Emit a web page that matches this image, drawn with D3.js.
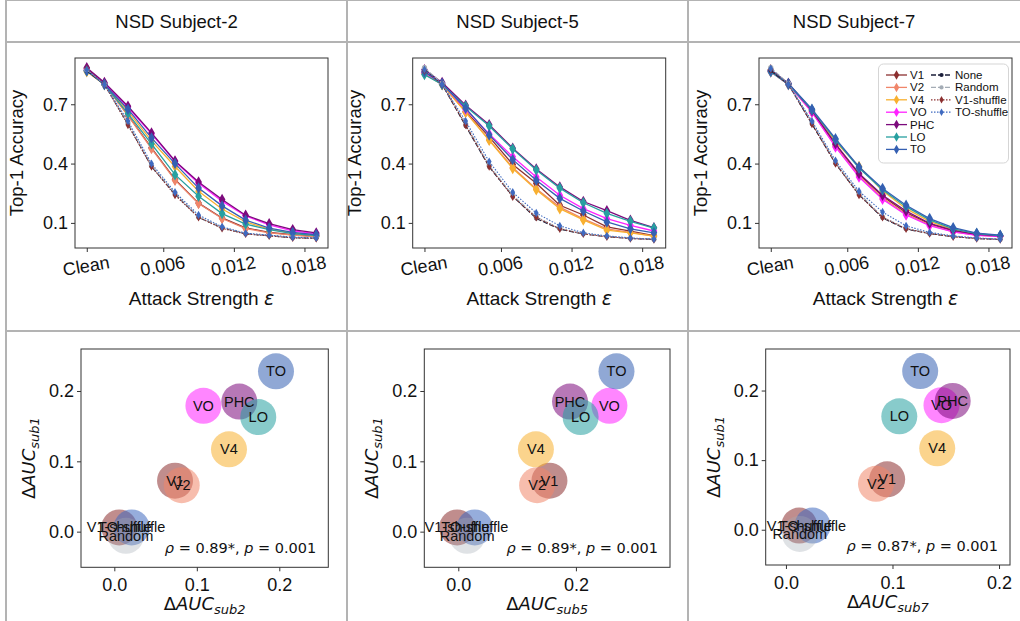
<!DOCTYPE html>
<html>
<head>
<meta charset="utf-8">
<script src="https://cdn.jsdelivr.net/npm/d3@7"></script>
<style>
  body { margin:0; background:#fff; }
  text { font-family: "Liberation Sans", Arial, sans-serif; fill:#111; }
  .math { font-family: "DejaVu Sans", sans-serif; }
</style>
</head>
<body>
<svg id="fig" width="1020" height="621"></svg>
<script>
// ---- data ----
var subjects = ["NSD Subject-2", "NSD Subject-5", "NSD Subject-7"];
var subTags = ["sub2", "sub5", "sub7"];
var rhoText = ["0.89", "0.89", "0.87"];

// x positions of the attack strengths, first one is the "Clean" point
var epsVals = [-0.0005, 0.001, 0.003, 0.005, 0.007, 0.009, 0.011, 0.013, 0.015, 0.017, 0.019];
var epsTicks = [-0.0005, 0.006, 0.012, 0.018];
var epsTickLabels = ["Clean", "0.006", "0.012", "0.018"];
var accTicks = [0.1, 0.4, 0.7];

var seriesNames = ["V1", "V2", "V4", "VO", "PHC", "LO", "TO", "None", "Random", "V1-shuffle", "TO-shuffle"];

// Subject-2 top-1 accuracy
var s2_V1   = [0.880, 0.805, 0.645, 0.480, 0.320, 0.200, 0.125, 0.075, 0.052, 0.040, 0.032];
var s2_V2   = [0.870, 0.800, 0.642, 0.476, 0.316, 0.198, 0.122, 0.071, 0.050, 0.038, 0.030];
var s2_V4   = [0.865, 0.800, 0.665, 0.515, 0.385, 0.260, 0.170, 0.105, 0.068, 0.048, 0.037];
var s2_VO   = [0.875, 0.805, 0.685, 0.550, 0.410, 0.300, 0.210, 0.135, 0.090, 0.060, 0.045];
var s2_PHC  = [0.885, 0.810, 0.690, 0.555, 0.413, 0.307, 0.218, 0.139, 0.096, 0.066, 0.049];
var s2_LO   = [0.870, 0.800, 0.653, 0.500, 0.344, 0.235, 0.147, 0.094, 0.066, 0.046, 0.036];
var s2_TO   = [0.870, 0.800, 0.675, 0.530, 0.400, 0.276, 0.186, 0.114, 0.074, 0.052, 0.040];
var s2_None = [0.870, 0.800, 0.600, 0.385, 0.245, 0.128, 0.075, 0.045, 0.035, 0.025, 0.022];
var s2_Rand = [0.875, 0.800, 0.605, 0.390, 0.250, 0.130, 0.078, 0.046, 0.036, 0.026, 0.023];
var s2_V1sh = [0.880, 0.800, 0.595, 0.385, 0.240, 0.128, 0.072, 0.044, 0.034, 0.024, 0.022];
var s2_TOsh = [0.875, 0.800, 0.615, 0.400, 0.255, 0.140, 0.080, 0.048, 0.038, 0.028, 0.024];

// Subject-5
var s5_V1   = [0.860, 0.800, 0.665, 0.535, 0.395, 0.300, 0.189, 0.140, 0.080, 0.058, 0.036];
var s5_V2   = [0.855, 0.800, 0.660, 0.520, 0.380, 0.272, 0.180, 0.120, 0.070, 0.052, 0.033];
var s5_V4   = [0.855, 0.800, 0.660, 0.518, 0.375, 0.268, 0.172, 0.115, 0.063, 0.050, 0.033];
var s5_VO   = [0.860, 0.805, 0.675, 0.550, 0.434, 0.332, 0.240, 0.172, 0.122, 0.088, 0.059];
var s5_PHC  = [0.875, 0.810, 0.695, 0.596, 0.478, 0.373, 0.282, 0.208, 0.162, 0.113, 0.076];
var s5_LO   = [0.850, 0.800, 0.690, 0.590, 0.474, 0.368, 0.276, 0.202, 0.148, 0.108, 0.074];
var s5_TO   = [0.865, 0.805, 0.680, 0.545, 0.420, 0.316, 0.224, 0.160, 0.105, 0.070, 0.050];
var s5_None = [0.880, 0.800, 0.590, 0.383, 0.235, 0.122, 0.068, 0.044, 0.030, 0.021, 0.016];
var s5_Rand = [0.885, 0.805, 0.600, 0.390, 0.240, 0.130, 0.072, 0.046, 0.032, 0.022, 0.017];
var s5_V1sh = [0.870, 0.800, 0.595, 0.385, 0.232, 0.128, 0.070, 0.044, 0.030, 0.021, 0.016];
var s5_TOsh = [0.875, 0.800, 0.615, 0.410, 0.255, 0.150, 0.085, 0.050, 0.034, 0.024, 0.018];

// Subject-7
var s7_V1   = [0.875, 0.805, 0.665, 0.495, 0.345, 0.235, 0.152, 0.095, 0.058, 0.040, 0.033];
var s7_V2   = [0.865, 0.800, 0.660, 0.488, 0.338, 0.226, 0.145, 0.090, 0.055, 0.038, 0.032];
var s7_V4   = [0.865, 0.800, 0.670, 0.510, 0.385, 0.262, 0.172, 0.108, 0.066, 0.044, 0.035];
var s7_VO   = [0.865, 0.800, 0.660, 0.484, 0.332, 0.220, 0.140, 0.086, 0.054, 0.037, 0.031];
var s7_PHC  = [0.870, 0.805, 0.668, 0.500, 0.350, 0.240, 0.160, 0.098, 0.062, 0.042, 0.034];
var s7_LO   = [0.865, 0.800, 0.672, 0.520, 0.378, 0.268, 0.182, 0.115, 0.070, 0.046, 0.036];
var s7_TO   = [0.870, 0.805, 0.675, 0.526, 0.383, 0.274, 0.189, 0.122, 0.076, 0.048, 0.038];
var s7_None = [0.870, 0.800, 0.600, 0.400, 0.243, 0.125, 0.068, 0.046, 0.030, 0.021, 0.016];
var s7_Rand = [0.885, 0.805, 0.610, 0.405, 0.250, 0.130, 0.072, 0.048, 0.032, 0.022, 0.017];
var s7_V1sh = [0.875, 0.800, 0.600, 0.400, 0.240, 0.128, 0.070, 0.046, 0.030, 0.021, 0.016];
var s7_TOsh = [0.880, 0.800, 0.615, 0.415, 0.260, 0.155, 0.085, 0.052, 0.034, 0.024, 0.018];

// scatter: delta AUC of subject 1 (y) against each other subject (x)
var scatNames = ["V1-shuffle", "TO-shuffle", "Random", "V1", "V2", "V4", "VO", "PHC", "LO", "TO"];
var aucSub1 = [0.006, 0.006, -0.006, 0.0725, 0.066, 0.117, 0.179, 0.185, 0.163, 0.228];
var aucSub2 = [0.006, 0.021, 0.014, 0.0736, 0.0817, 0.139, 0.108, 0.1515, 0.1745, 0.196];
var aucSub5 = [-0.002, 0.028, 0.015, 0.155, 0.134, 0.132, 0.257, 0.190, 0.208, 0.269];
var aucSub7 = [0.0125, 0.025, 0.013, 0.095, 0.0845, 0.142, 0.146, 0.1565, 0.1064, 0.126];
var aucTicksY = [0.0, 0.1, 0.2];
var aucTicksX = [[0.0, 0.1, 0.2], [0.0, 0.2], [0.0, 0.1, 0.2]];

// ---- styling ----
var colors = {
  "V1": "#8c3030", "V2": "#f0866a", "V4": "#f8b030", "VO": "#ff22ff",
  "PHC": "#7c0a7c", "LO": "#27a0a0", "TO": "#3560b2",
  "None": "#1b1f3a", "Random": "#a4acb5", "V1-shuffle": "#8c3030", "TO-shuffle": "#3f6ac0"
};
var dashes = { "None": "5,2", "Random": "5,2", "V1-shuffle": "1.5,1.5", "TO-shuffle": "1.5,1.5" };

var accData = [
  [s2_V1, s2_V2, s2_V4, s2_VO, s2_PHC, s2_LO, s2_TO, s2_None, s2_Rand, s2_V1sh, s2_TOsh],
  [s5_V1, s5_V2, s5_V4, s5_VO, s5_PHC, s5_LO, s5_TO, s5_None, s5_Rand, s5_V1sh, s5_TOsh],
  [s7_V1, s7_V2, s7_V4, s7_VO, s7_PHC, s7_LO, s7_TO, s7_None, s7_Rand, s7_V1sh, s7_TOsh]
];
var aucX = [aucSub2, aucSub5, aucSub7];

var svg = d3.select("#fig");

// table grid
var gridCol = "#b3b3b3";
[6, 347, 688].forEach(function(x) {
  svg.append("line").attr("x1", x).attr("x2", x).attr("y1", 0).attr("y2", 621)
    .attr("stroke", gridCol).attr("stroke-width", 2);
});
[0.5, 42, 331].forEach(function(y) {
  svg.append("line").attr("x1", 6).attr("x2", 1020).attr("y1", y).attr("y2", y)
    .attr("stroke", gridCol).attr("stroke-width", y < 1 ? 1 : 2);
});

var colCenters = [176.5, 517.5, 854];
subjects.forEach(function(s, i) {
  svg.append("text").attr("x", colCenters[i]).attr("y", 28).attr("text-anchor", "middle")
    .style("font-size", "18.5px").text(s);
});

// ---- top row: accuracy curves ----
var lineLefts = [75, 412.7, 759];
var lTop = 58, lBot = 248, lW = 253;

function diamond(size) {
  return d3.symbol().type(d3.symbolDiamond).size(size)();
}

for (var p = 0; p < 3; p++) {
  var g = svg.append("g");
  var x = d3.scaleLinear().domain([-0.0015, 0.0200]).range([lineLefts[p], lineLefts[p] + lW]);
  var y = d3.scaleLinear().domain([-0.027, 0.934]).range([lBot, lTop]);

  var xAx = g.append("g").attr("transform", "translate(0," + lBot + ")")
    .call(d3.axisBottom(x).tickValues(epsTicks).tickSize(4)
      .tickFormat(function(d, i) { return epsTickLabels[i]; }));
  xAx.selectAll("text").style("font-size", "18px").attr("text-anchor", "middle")
    .attr("dy", 0).attr("y", 0)
    .attr("transform", "translate(0,24) rotate(-10)");
  var yAx = g.append("g").attr("transform", "translate(" + lineLefts[p] + ",0)")
    .call(d3.axisLeft(y).tickValues(accTicks).tickSize(4).tickFormat(d3.format(".1f")));
  yAx.selectAll("text").style("font-size", "18px");
  g.selectAll(".domain").remove();
  g.selectAll(".tick line").attr("stroke", "#333");

  var line = d3.line().x(function(d, i) { return x(epsVals[i]); }).y(function(d) { return y(d); });

  accData[p].forEach(function(vals, k) {
    var nm = seriesNames[k];
    var dashed = dashes[nm] !== undefined;
    g.append("path").datum(vals).attr("d", line).attr("fill", "none")
      .attr("stroke", colors[nm]).attr("stroke-width", dashed ? 1.1 : 1.3)
      .attr("stroke-dasharray", dashed ? dashes[nm] : null);
    var mk = g.append("g").selectAll("path").data(vals).enter().append("path")
      .attr("transform", function(d, i) { return "translate(" + x(epsVals[i]) + "," + y(d) + ")"; })
      .attr("fill", colors[nm]);
    if (nm == "None" || nm == "Random") mk.attr("d", d3.symbol().type(d3.symbolCircle).size(nm == "None" ? 14 : 22)());
    else if (dashed) mk.attr("d", diamond(20));
    else mk.attr("d", diamond(38));
  });

  // axes frame
  g.append("rect").attr("x", lineLefts[p]).attr("y", lTop).attr("width", lW).attr("height", lBot - lTop)
    .attr("fill", "none").attr("stroke", "#333").attr("stroke-width", 1);

  g.append("text").attr("x", lineLefts[p] + lW / 2).attr("y", 305).attr("text-anchor", "middle")
    .style("font-size", "19px")
    .html('Attack Strength <tspan class="math" font-style="italic">ε</tspan>');
  g.append("text").attr("transform", "translate(" + (lineLefts[p] - 52) + "," + ((lTop + lBot) / 2) + ") rotate(-90)")
    .attr("text-anchor", "middle").style("font-size", "18.5px").text("Top-1 Accuracy");
}

// legend in the last panel
var lg = svg.append("g");
lg.append("rect").attr("x", 878.5).attr("y", 64).attr("width", 130).attr("height", 99).attr("rx", 5)
  .attr("fill", "#fff").attr("fill-opacity", 0.85).attr("stroke", "#d5d5d5");
seriesNames.forEach(function(nm, k) {
  var col = k < 7 ? 0 : 1;
  var row = k < 7 ? k : k - 7;
  var lx = col == 0 ? 886 : 931;
  var ly = 75 + row * 12.4;
  var dashed = dashes[nm] !== undefined;
  lg.append("line").attr("x1", lx).attr("x2", lx + 21).attr("y1", ly).attr("y2", ly)
    .attr("stroke", colors[nm]).attr("stroke-width", 1.3)
    .attr("stroke-dasharray", dashed ? dashes[nm] : null);
  var sym = (nm == "None" || nm == "Random") ? d3.symbol().type(d3.symbolCircle).size(14)() : diamond(dashed ? 16 : 26);
  lg.append("path").attr("d", sym).attr("transform", "translate(" + (lx + 10.5) + "," + ly + ")").attr("fill", colors[nm]);
  lg.append("text").attr("x", lx + 24).attr("y", ly).attr("dy", "0.35em").style("font-size", "11.5px").text(nm);
});

// ---- bottom row: delta AUC scatter ----
var sBoxes = [[81, 349, 328.3, 567.3], [424.3, 349, 670, 567.3], [765.7, 349, 1010, 565]];
var sXdom = [[-0.0404, 0.2594], [-0.0578, 0.36], [-0.019, 0.2103]];

for (var p = 0; p < 3; p++) {
  var b = sBoxes[p];
  var g = svg.append("g");
  var x = d3.scaleLinear().domain(sXdom[p]).range([b[0], b[2]]);
  var y = d3.scaleLinear().domain([-0.0507, 0.2597]).range([b[3], b[1]]);

  var xAx = g.append("g").attr("transform", "translate(0," + b[3] + ")")
    .call(d3.axisBottom(x).tickValues(aucTicksX[p]).tickSize(4).tickFormat(d3.format(".1f")));
  xAx.selectAll("text").style("font-size", "18px").attr("dy", "0.95em");
  var yAx = g.append("g").attr("transform", "translate(" + b[0] + ",0)")
    .call(d3.axisLeft(y).tickValues(aucTicksY).tickSize(4).tickFormat(d3.format(".1f")));
  yAx.selectAll("text").style("font-size", "18px");
  g.selectAll(".domain").remove();
  g.selectAll(".tick line").attr("stroke", "#333");

  var pts = scatNames.map(function(nm, i) { return { name: nm, x: aucX[p][i], y: aucSub1[i] }; });

  g.selectAll("circle.pt").data(pts).enter().append("circle").attr("class", "pt")
    .attr("cx", function(d) { return x(d.x); }).attr("cy", function(d) { return y(d.y); })
    .attr("r", 18).attr("fill", function(d) { return colors[d.name]; })
    .attr("fill-opacity", function(d) { return d.name == "Random" ? 0.35 : 0.55; });
  g.selectAll("text.lab").data(pts).enter().append("text").attr("class", "lab")
    .attr("x", function(d) { return x(d.x); }).attr("y", function(d) { return y(d.y); })
    .attr("dy", "0.35em").attr("text-anchor", "middle").style("font-size", "14.5px")
    .text(function(d) { return d.name; });

  g.append("rect").attr("x", b[0]).attr("y", b[1]).attr("width", b[2] - b[0]).attr("height", b[3] - b[1])
    .attr("fill", "none").attr("stroke", "#333").attr("stroke-width", 1);

  // correlation note
  g.append("text").attr("class", "math").attr("x", b[2] - 12).attr("y", b[3] - 14)
    .attr("text-anchor", "end").style("font-size", "14.5px")
    .html('<tspan font-style="italic">ρ</tspan> = ' + rhoText[p] + '*, <tspan font-style="italic">p</tspan> = 0.001');

  g.append("text").attr("class", "math").attr("x", (b[0] + b[2]) / 2).attr("y", b[3] + 43)
    .attr("text-anchor", "middle").style("font-size", "18px")
    .html('Δ<tspan font-style="italic">AUC</tspan><tspan font-style="italic" font-size="13px" dy="4">' + subTags[p] + '</tspan>');
  g.append("text").attr("class", "math")
    .attr("transform", "translate(" + (b[0] - 46) + "," + ((b[1] + b[3]) / 2) + ") rotate(-90)")
    .attr("text-anchor", "middle").style("font-size", "18px")
    .html('Δ<tspan font-style="italic">AUC</tspan><tspan font-style="italic" font-size="13px" dy="4">sub1</tspan>');
}
</script>
</body>
</html>
